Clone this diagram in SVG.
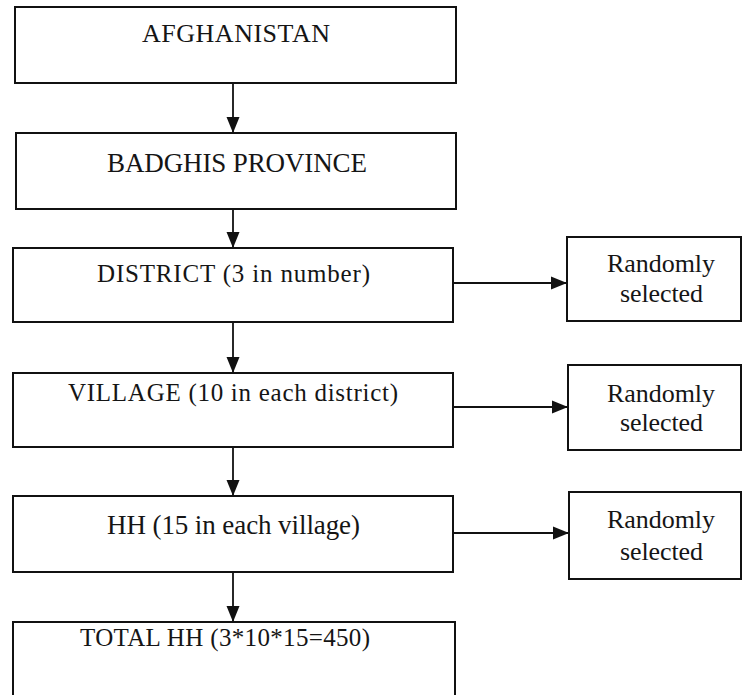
<svg xmlns="http://www.w3.org/2000/svg" width="745" height="695" viewBox="0 0 745 695">
<defs>
<style>
.box{fill:#fff;stroke:#111;stroke-width:2}
.t{font-family:"Liberation Serif","Times New Roman",serif;fill:#151515}
.c{stroke:#111;stroke-width:1.8;fill:none}
</style>
<marker id="ah" markerUnits="userSpaceOnUse" markerWidth="16" markerHeight="16" viewBox="0 0 16 16" refX="16" refY="8" orient="auto">
<path d="M0,1.5 L16,8 L0,14.5 Z" fill="#111"/>
</marker>
</defs>
<rect width="745" height="695" fill="#fff"/>
<g id="connectors">
<line class="c" x1="233" y1="83" x2="233" y2="133" marker-end="url(#ah)"/>
<line class="c" x1="233" y1="209" x2="233" y2="248" marker-end="url(#ah)"/>
<line class="c" x1="233" y1="322" x2="233" y2="373" marker-end="url(#ah)"/>
<line class="c" x1="233" y1="447" x2="233" y2="496" marker-end="url(#ah)"/>
<line class="c" x1="233" y1="572" x2="233" y2="622" marker-end="url(#ah)"/>
<line class="c" x1="453" y1="283" x2="567" y2="283" marker-end="url(#ah)"/>
<line class="c" x1="453" y1="407" x2="568" y2="407" marker-end="url(#ah)"/>
<line class="c" x1="453" y1="533" x2="569" y2="533" marker-end="url(#ah)"/>
</g>
<g id="afghanistan">
<rect class="box" x="15" y="7" width="441" height="76"/>
<text class="t" x="142" y="42" font-size="26" textLength="188" lengthAdjust="spacing">AFGHANISTAN</text>
</g>
<g id="badghis">
<rect class="box" x="16" y="133" width="440" height="76"/>
<text class="t" x="107" y="172" font-size="27" textLength="260" lengthAdjust="spacing">BADGHIS PROVINCE</text>
</g>
<g id="district">
<rect class="box" x="13" y="248" width="440" height="74"/>
<text class="t" x="97" y="282" font-size="25" textLength="273" lengthAdjust="spacing">DISTRICT (3 in number)</text>
</g>
<g id="village">
<rect class="box" x="13" y="373" width="440" height="74"/>
<text class="t" x="68" y="401" font-size="25" textLength="330" lengthAdjust="spacing">VILLAGE (10 in each district)</text>
</g>
<g id="hh">
<rect class="box" x="13" y="496" width="440" height="76"/>
<text class="t" x="107" y="534" font-size="27" textLength="253" lengthAdjust="spacing">HH (15 in each village)</text>
</g>
<g id="total">
<rect class="box" x="13" y="622" width="442" height="80"/>
<text class="t" x="80" y="646" font-size="25" textLength="290" lengthAdjust="spacing">TOTAL HH (3*10*15=450)</text>
</g>
<g id="random1">
<rect class="box" x="567" y="237" width="174" height="84"/>
<text class="t" x="607" y="272" font-size="26" textLength="108" lengthAdjust="spacing">Randomly</text>
<text class="t" x="620" y="302" font-size="26" textLength="83" lengthAdjust="spacing">selected</text>
</g>
<g id="random2">
<rect class="box" x="568" y="365" width="173" height="85"/>
<text class="t" x="607" y="402" font-size="26" textLength="108" lengthAdjust="spacing">Randomly</text>
<text class="t" x="620" y="431" font-size="26" textLength="83" lengthAdjust="spacing">selected</text>
</g>
<g id="random3">
<rect class="box" x="569" y="492" width="172" height="87"/>
<text class="t" x="607" y="528" font-size="26" textLength="108" lengthAdjust="spacing">Randomly</text>
<text class="t" x="620" y="560" font-size="26" textLength="83" lengthAdjust="spacing">selected</text>
</g>
</svg>
